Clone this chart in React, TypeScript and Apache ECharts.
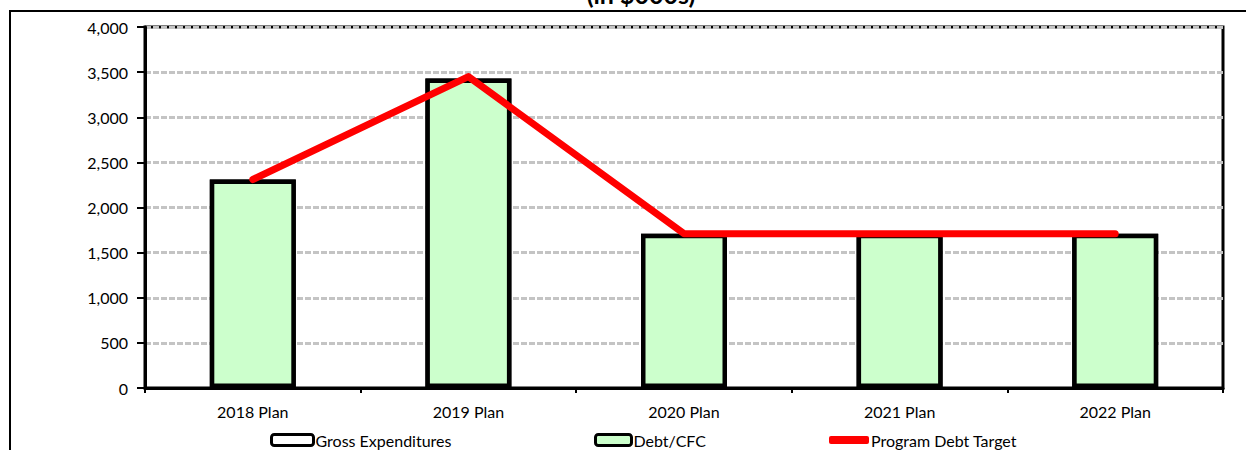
import React, { useEffect, useRef } from "react";
import * as echarts from "echarts";

// Plan years along the x axis
const categories = ["2018 Plan", "2019 Plan", "2020 Plan", "2021 Plan", "2022 Plan"];
// Values in $000s
const grossExpenditures = [2310, 3430, 1710, 1710, 1710];
const debtCfc = [2310, 3430, 1710, 1710, 1710];
const programDebtTarget = [2310, 3450, 1710, 1710, 1710];

const FONT = "Lato, 'Noto Sans', sans-serif";

export default function App() {
  const ref = useRef<HTMLDivElement>(null);

  useEffect(() => {
    document.body.style.margin = "0";
    const chart = echarts.init(ref.current!, null, { renderer: "svg" });
    const legendText = { fontFamily: FONT, fontSize: 16, color: "#000", padding: [0, 0, 0, -3] };
    chart.setOption({
      animation: false,
      backgroundColor: "#ffffff",
      textStyle: { fontFamily: FONT, color: "#000" },
      grid: {
        left: 145,
        right: 23,
        top: 27,
        bottom: 62,
        show: true,
        borderColor: "#000",
        borderWidth: 3,
        backgroundColor: "transparent",
      },
      graphic: [
        {
          type: "rect",
          shape: { x: 10, y: 11, width: 1400, height: 600 },
          style: { fill: "none", stroke: "#000", lineWidth: 2 },
          silent: true,
          z: -1,
        },
        {
          type: "text",
          x: 641,
          y: -6,
          style: {
            text: "(in $000s)",
            font: `bold 25px ${FONT}`,
            fill: "#000",
            align: "center",
            verticalAlign: "middle",
          },
        },
      ],
      legend: [
        {
          data: ["Gross Expenditures"],
          left: 270,
          top: 432,
          itemWidth: 42,
          itemHeight: 11,
          icon: "roundRect",
          textStyle: legendText,
          itemStyle: { color: "#ffffff", borderColor: "#000", borderWidth: 3 },
          padding: 0,
        },
        {
          data: ["Debt/CFC"],
          left: 594,
          top: 432,
          itemWidth: 36,
          itemHeight: 11,
          icon: "roundRect",
          textStyle: legendText,
          itemStyle: { color: "#CCFFCC", borderColor: "#000", borderWidth: 3 },
          padding: 0,
        },
        {
          data: ["Program Debt Target"],
          left: 829,
          top: 432,
          itemWidth: 40,
          itemHeight: 8,
          icon: "roundRect",
          textStyle: legendText,
          itemStyle: { color: "#FF0000", borderWidth: 0 },
          lineStyle: { width: 0 },
          padding: 0,
        },
      ],
      xAxis: {
        type: "category",
        data: categories,
        boundaryGap: true,
        axisLine: { lineStyle: { color: "#000", width: 3 } },
        axisTick: { show: true, length: 5, lineStyle: { color: "#000", width: 2 } },
        axisLabel: { fontFamily: FONT, fontSize: 16, color: "#000", margin: 15 },
        splitLine: { show: false },
      },
      yAxis: {
        type: "value",
        min: 0,
        max: 4000,
        interval: 500,
        axisLine: { show: true, lineStyle: { color: "#000", width: 3 } },
        axisTick: { show: true, length: 8, lineStyle: { color: "#000", width: 2 } },
        axisLabel: {
          fontFamily: FONT,
          fontSize: 16,
          color: "#000",
          margin: 17,
          formatter: (v: number) => v.toLocaleString("en-US"),
        },
        splitLine: { show: true, lineStyle: { color: "#c4c4c4", width: 3, type: [6, 2] } },
      },
      series: [
        {
          name: "Gross Expenditures",
          type: "bar",
          data: grossExpenditures,
          barWidth: 86,
          barGap: "-100%",
          itemStyle: { color: "#ffffff", borderColor: "#000", borderWidth: 4.5 },
          z: 2,
        },
        {
          name: "Debt/CFC",
          type: "bar",
          data: debtCfc,
          barWidth: 86,
          barGap: "-100%",
          itemStyle: { color: "#CCFFCC", borderColor: "#000", borderWidth: 4.5 },
          z: 3,
        },
        {
          name: "Program Debt Target",
          type: "line",
          data: programDebtTarget,
          symbol: "none",
          lineStyle: { color: "#FF0000", width: 7, cap: "round", join: "round" },
          itemStyle: { color: "#FF0000" },
          z: 5,
        },
      ],
    });
    return () => chart.dispose();
  }, []);

  return (
    <div
      ref={ref}
      style={{ position: "absolute", left: 0, top: 0, width: 1246, height: 450 }}
    />
  );
}
